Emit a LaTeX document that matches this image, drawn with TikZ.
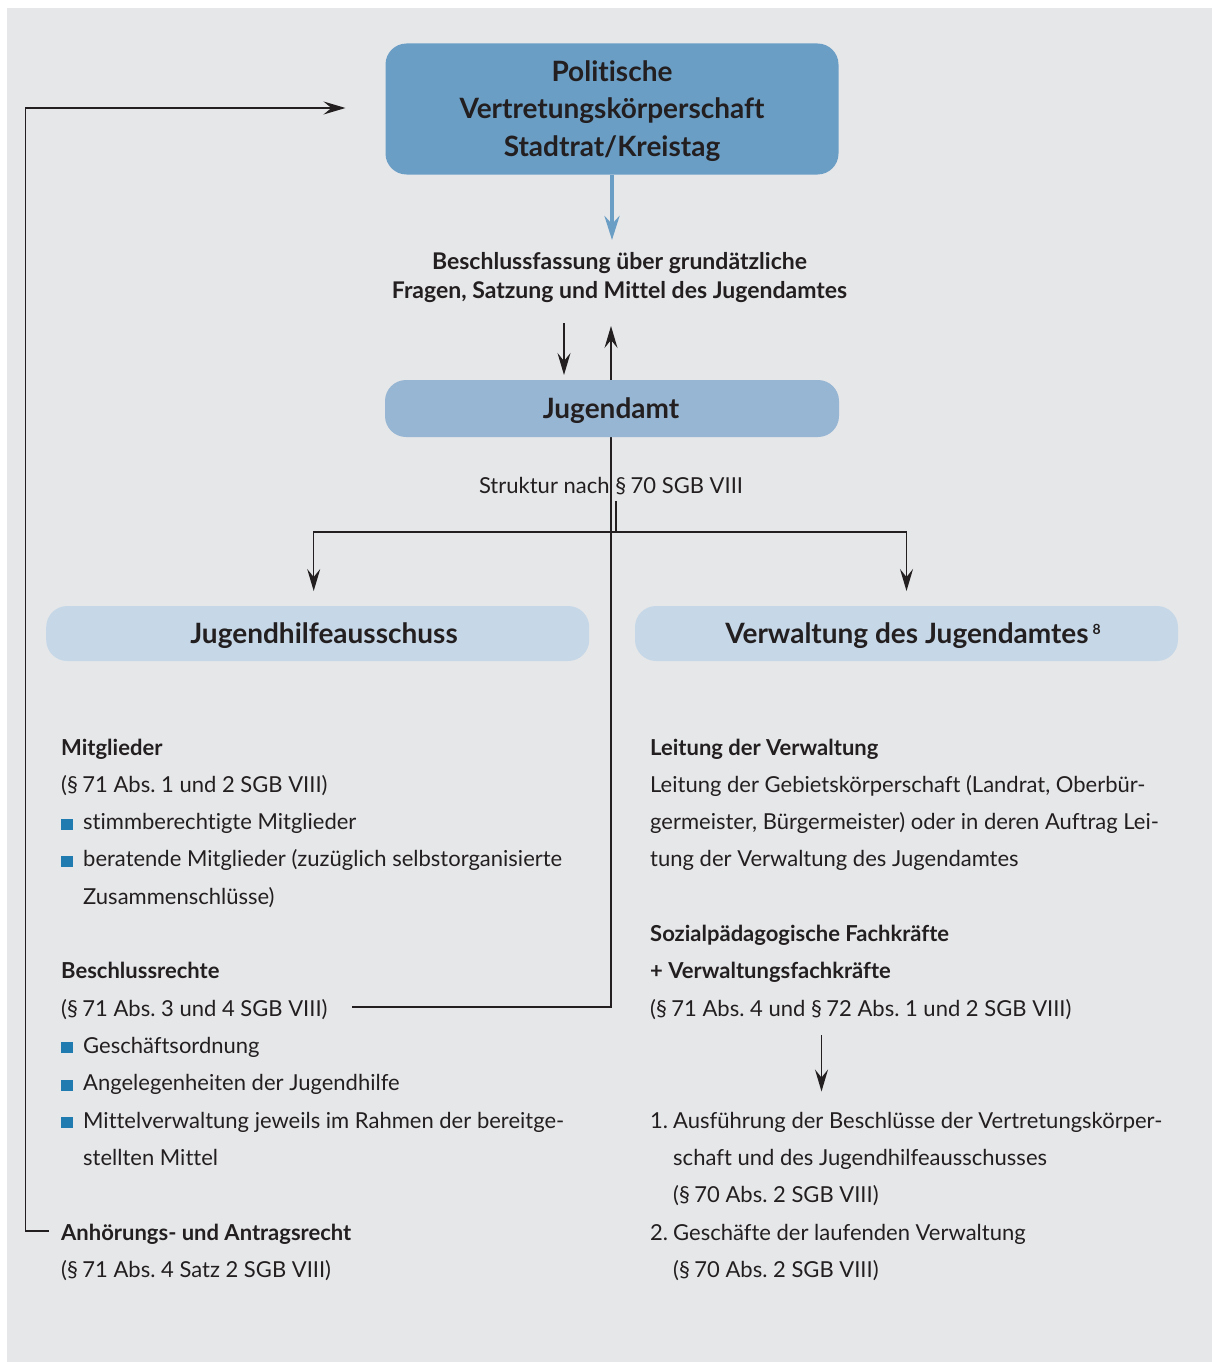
\documentclass[tikz,border=0pt]{standalone}
\usepackage{fontspec}
\setmainfont[Ligatures=NoCommon]{Lato}
\usetikzlibrary{arrows.meta}
\definecolor{bg}{HTML}{E6E7E9}
\definecolor{ink}{HTML}{231F20}
\definecolor{topblue}{HTML}{6A9EC5}
\definecolor{midblue}{HTML}{97B6D3}
\definecolor{lightblue}{HTML}{C6D8E8}
\definecolor{bul}{HTML}{1F7BB0}
\newcommand\bsq{\makebox[22pt][l]{\textcolor{bul}{\rule{11.5pt}{11pt}}}}
\newcommand\para{\S\kern4.5pt}
\frenchspacing
\begin{document}
\begin{tikzpicture}[x=1pt,y=-1pt,
  box/.style={rounded corners=21pt, inner sep=0pt, text=ink, align=center},
  boxtext/.style={anchor=base, inner sep=0pt, text=ink, font=\fontsize{28}{30}\selectfont\bfseries},
  arr/.style={draw=ink, line width=1.3pt, -{Stealth[length=22pt,width=13pt,inset=8pt]}},
  plain/.style={draw=ink, line width=1.3pt},
  blueline/.style={draw=topblue, line width=4.5pt, -{Stealth[length=24pt,width=15pt,inset=8pt]}},
  body/.style={anchor=base west, inner sep=0pt, text=ink, font=\fontsize{22}{26}\selectfont},
  head/.style={body, font=\fontsize{22}{26}\selectfont\bfseries},
]
\path[use as bounding box] (0,0) rectangle (1212,1362);
\fill[white] (0,0) rectangle (1212,1362);
\fill[bg] (7,8) rectangle (1212,1362);

% connector from the Beschlussrechte line up to the resolution text (behind the Jugendamt box)
\coordinate (rstart) at (352,1007);
\coordinate (rcorner) at (611,1007);
\coordinate (rtip) at (611,326);
\draw[arr] (rstart) -- (rcorner) -- (rtip);

% boxes
\node[box, fill=topblue, minimum width=453pt, minimum height=131pt] (pol) at (612,109) {};
\node[boxtext] (pol1) at (612,81.7) {Politische};
\node[boxtext] (pol2) at (612,119) {Vertretungskörperschaft};
\node[boxtext] (pol3) at (612,156.3) {Stadtrat/Kreistag};

\node[box, fill=midblue, minimum width=454pt, minimum height=57pt] (jug) at (612,408.5) {};
\node[boxtext] (jugt) at (611,418) {Jugendamt};

\node[box, fill=lightblue, minimum width=543pt, minimum height=55pt] (jha) at (317.7,633.5) {};
\node[boxtext] (jhat) at (324,643) {Jugendhilfeausschuss};

\node[box, fill=lightblue, minimum width=543pt, minimum height=55pt] (vja) at (906.5,633.5) {};
\node[boxtext] (vjat) at (913,643)
  {Verwaltung des Jugendamtes\hspace{4pt}\raisebox{8.5pt}{\fontsize{14}{14}\selectfont 8}};

% resolution text
\node[anchor=base, inner sep=0pt, text=ink, font=\fontsize{23}{26}\selectfont\bfseries] (bf1) at (619.5,269)
  {Beschlussfassung über grundätzliche};
\node[anchor=base, inner sep=0pt, text=ink, font=\fontsize{23}{26}\selectfont\bfseries] (bf2) at (619.5,298.5)
  {Fragen, Satzung und Mittel des Jugendamtes};

% structure label
\node[anchor=base, inner sep=0pt, text=ink, font=\fontsize{22}{26}\selectfont] (struk) at (611,493)
  {Struktur nach \para 70 SGB VIII};

% top arrows
\draw[blueline] (pol.south) -- (612,240);
\coordinate (dstart) at (564,323);
\draw[arr] (dstart) -- (564,375);

% branch from the structure label to both columns
\coordinate (sstart) at (616,501);
\coordinate (sjoin) at (616,532);
\draw[plain] (sstart) -- (sjoin);
\draw[arr] (sjoin) -- (313.7,532) -- (313.7,591);
\draw[arr] (sjoin) -- (906.5,532) -- (906.5,591);

% feedback from the hearing right back to the council
\coordinate (fstart) at (49,1231);
\coordinate (ftip) at (345.5,108);
\draw[arr] (fstart) -- (25.5,1231) -- (25.5,108) -- (ftip);

% left column
\node[head] (l1) at (61,755) {Mitglieder};
\node[body] (l2) at (61,792.3) {(\para 71 Abs. 1 und 2 SGB VIII)};
\node[body] (l3) at (61,829.6) {\bsq stimmberechtigte Mitglieder};
\node[body] (l4) at (61,866.9) {\bsq beratende Mitglieder (zuzüglich selbstorganisierte};
\node[body] (l5) at (83,904.2) {Zusammenschlüsse)};
\node[head] (l6) at (61,978.8) {Beschlussrechte};
\node[body] (l7) at (61,1016.1) {(\para 71 Abs. 3 und 4 SGB VIII)};
\node[body] (l8) at (61,1053.4) {\bsq Geschäftsordnung};
\node[body] (l9) at (61,1090.7) {\bsq Angelegenheiten der Jugendhilfe};
\node[body] (l10) at (61,1128) {\bsq Mittelverwaltung jeweils im Rahmen der bereitge-};
\node[body] (l11) at (83,1165.3) {stellten Mittel};
\node[head] (l12) at (61,1240) {Anhörungs- und Antragsrecht};
\node[body] (l13) at (61,1277.3) {(\para 71 Abs. 4 Satz 2 SGB VIII)};

% right column
\node[head] (r1) at (650,755) {Leitung der Verwaltung};
\node[body] (r2) at (650,792.3) {Leitung der Gebietskörperschaft (Landrat, Oberbür-};
\node[body] (r3) at (650,829.6) {germeister, Bürgermeister) oder in deren Auftrag Lei-};
\node[body] (r4) at (650,866.9) {tung der Verwaltung des Jugendamtes};
\node[head] (r5) at (650,941.5) {Sozialpädagogische Fachkräfte};
\node[head] (r6) at (650,978.8) {+ Verwaltungsfachkräfte};
\node[body] (r7) at (650,1016.1) {(\para 71 Abs. 4 und \para 72 Abs. 1 und 2 SGB VIII)};
\node[body] (r8) at (650,1128) {\makebox[23pt][l]{1.}Ausführung der Beschlüsse der Vertretungskörper-};
\node[body] (r9) at (673,1165.3) {schaft und des Jugendhilfeausschusses};
\node[body] (r10) at (673,1202.6) {(\para 70 Abs. 2 SGB VIII)};
\node[body] (r11) at (650,1240) {\makebox[23pt][l]{2.}Geschäfte der laufenden Verwaltung};
\node[body] (r12) at (673,1277.3) {(\para 70 Abs. 2 SGB VIII)};

\coordinate (vstart) at (821.5,1035);
\draw[arr] (vstart) -- (821.5,1091.5);
\end{tikzpicture}
\end{document}
